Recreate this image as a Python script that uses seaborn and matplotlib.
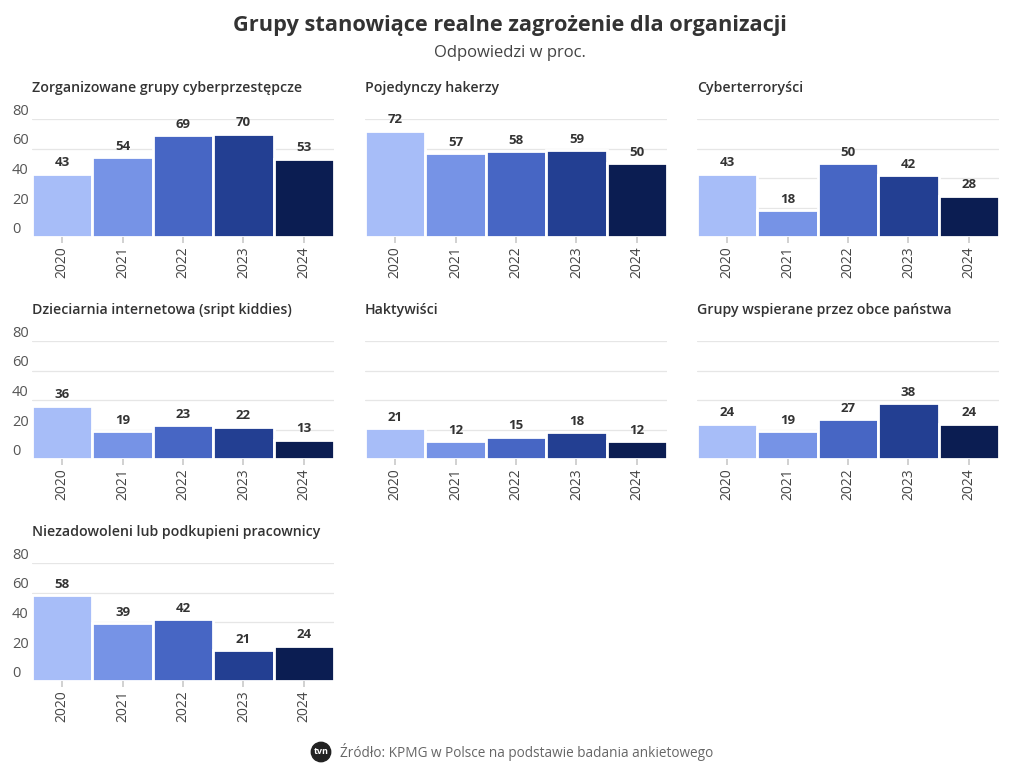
import matplotlib
matplotlib.use("Agg")
import matplotlib.pyplot as plt
import seaborn as sns
import pandas as pd

years = ["2020", "2021", "2022", "2023", "2024"]
titles = [
    "Zorganizowane grupy cyberprzestępcze",
    "Pojedynczy hakerzy",
    "Cyberterroryści",
    "Dzieciarnia internetowa (sript kiddies)",
    "Haktywiści",
    "Grupy wspierane przez obce państwa",
    "Niezadowoleni lub podkupieni pracownicy",
]
zorganizowane = [43, 54, 69, 70, 53]
pojedynczy = [72, 57, 58, 59, 50]
cyberterrorysci = [43, 18, 50, 42, 28]
dzieciarnia = [36, 19, 23, 22, 13]
haktywisci = [21, 12, 15, 18, 12]
obce_panstwa = [24, 19, 27, 38, 24]
pracownicy = [58, 39, 42, 21, 24]
series = [zorganizowane, pojedynczy, cyberterrorysci, dzieciarnia,
          haktywisci, obce_panstwa, pracownicy]
yticks = [0, 20, 40, 60, 80]
colors = ["#a7bdf8", "#7693e6", "#4766c4", "#233f92", "#0b1d52"]

sns.set_theme(style="white")
plt.rcParams["font.family"] = ["Open Sans", "DejaVu Sans"]

W, H = 1020, 780
fig = plt.figure(figsize=(W / 100, H / 100), dpi=100)

col_x = [32, 365, 697]
col_w = 302
row_bottom = [237, 459, 681]
row_h = 118

for i, (title, vals) in enumerate(zip(titles, series)):
    r, c = divmod(i, 3)
    ax = fig.add_axes([col_x[c] / W, 1 - row_bottom[r] / H, col_w / W, row_h / H])
    df = pd.DataFrame({"year": years, "value": vals})
    sns.barplot(data=df, x="year", y="value", hue="year", palette=colors,
                dodge=False, width=1.0, edgecolor="white", linewidth=2,
                saturation=1, legend=False, ax=ax, zorder=3)
    ax.set_ylim(0, 80)
    ax.set_xlim(-0.5, 4.5)
    ax.set_yticks(yticks)
    ax.grid(axis="y", color="#e6e6e6", linewidth=0.9, zorder=0)
    ax.set_axisbelow(True)
    for s in ax.spines.values():
        s.set_visible(False)
    ax.set_xlabel("")
    ax.set_ylabel("")
    ax.tick_params(axis="x", rotation=90, labelsize=10, labelcolor="#444444",
                   length=4, color="#cccccc", pad=3, bottom=True)
    if c == 0:
        ax.tick_params(axis="y", labelsize=10.5, labelcolor="#555555", length=0, pad=14.4)
        for lab in ax.get_yticklabels():
            lab.set_verticalalignment("bottom")
            lab.set_horizontalalignment("left")
    else:
        ax.tick_params(axis="y", labelleft=False, length=0)
    for j, v in enumerate(vals):
        ax.text(j, v + 3, str(v), ha="center", va="bottom", fontsize=9.5,
                fontweight="bold", color="#333333")
    ax.text(0, 1.0 + 31 / row_h, title, transform=ax.transAxes, ha="left",
            va="center", fontsize=10.2, fontweight="semibold", color="#333333")

fig.text(0.5, 1 - 25 / H, "Grupy stanowiące realne zagrożenie dla organizacji",
         ha="center", va="center", fontsize=15.7, fontweight="bold", color="#333333")
fig.text(0.5, 1 - 53 / H, "Odpowiedzi w proc.", ha="center", va="center",
         fontsize=12, color="#444444")
fig.text(527 / W, 1 - 752 / H, "Źródło: KPMG w Polsce na podstawie badania ankietowego",
         ha="center", va="center", fontsize=9.8, color="#666666")
fig.text(321 / W, 1 - 752 / H, "tvn", ha="center", va="center", fontsize=6.5,
         fontweight="bold", color="white",
         bbox=dict(boxstyle="circle,pad=0.25", fc="#222222", ec="#222222"))

fig.savefig("out.png", dpi=100, facecolor="white")
